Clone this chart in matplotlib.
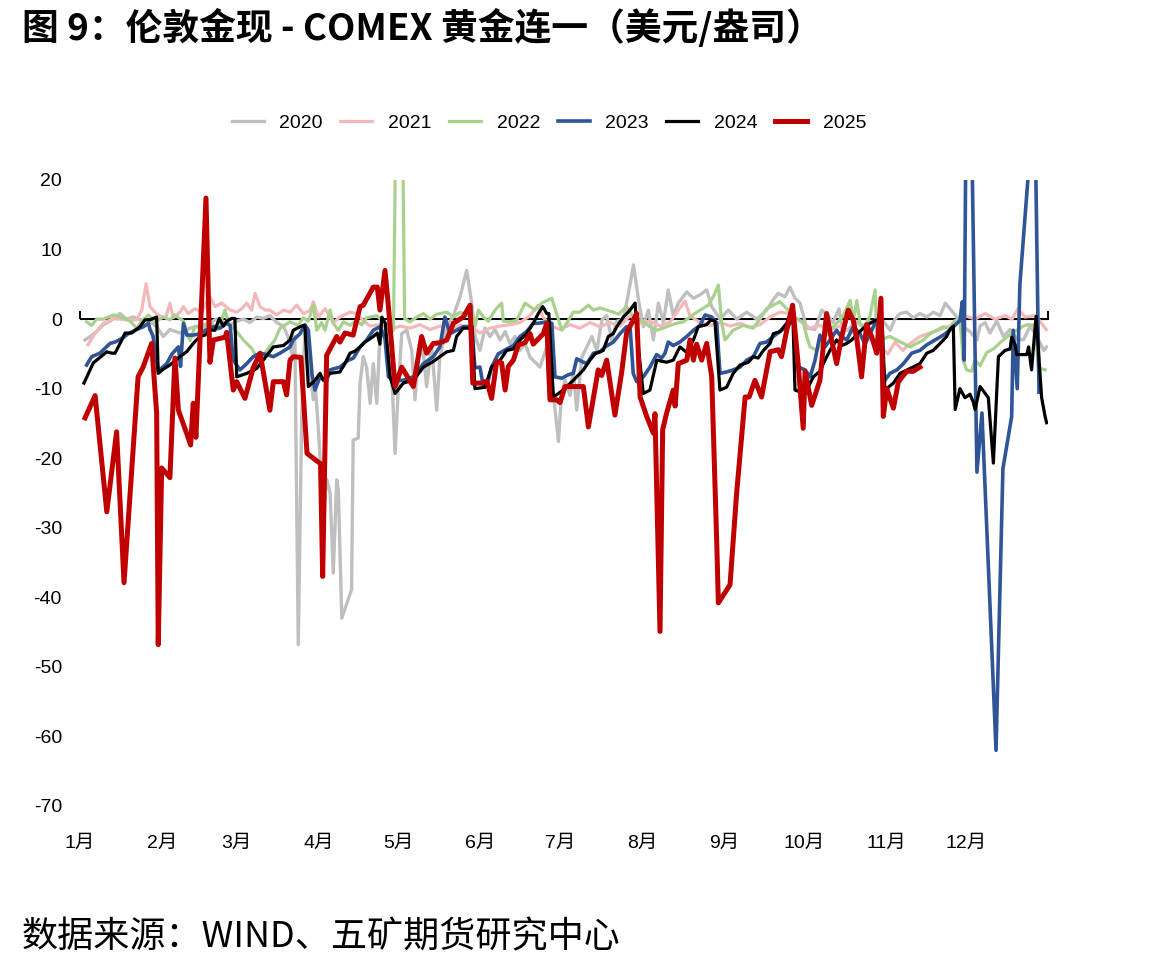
import matplotlib
matplotlib.use("Agg")
import matplotlib.pyplot as plt
from matplotlib import font_manager as fm

# ---------------- data ----------------
month_labels = ["1月", "2月", "3月", "4月", "5月", "6月", "7月", "8月", "9月", "10月", "11月", "12月"]
month_starts = [0, 31, 59, 90, 120, 151, 181, 212, 243, 273, 304, 334]
years = ["2020", "2021", "2022", "2023", "2024", "2025"]
y_ticks = [20, 10, 0, -10, -20, -30, -40, -50, -60, -70]

d2020 = [1.9, 3.8, 6.3, 8.8, 11.3, 15.1, 17.6, 20.1, 22.6, 25.1, 28.9, 31.4, 33.9, 37.7, 41.5, 45.2, 49.0, 51.5, 54.0, 56.6, 59.1, 61.6, 64.1, 66.6, 69.1, 71.6, 74.2, 76.7, 78.4, 79.8, 81.0, 82.3, 83.6, 84.8, 86.3, 88.0, 88.6, 89.9, 91.7, 93.0, 94.3, 95.5, 96.8, 97.4, 98.7, 102.4, 103.0, 104.9, 105.6, 106.8, 108.1, 109.4, 110.6, 111.9, 113.1, 114.4, 115.6, 117.5, 118.8, 120.0, 121.3, 123.2, 125.1, 126.3, 127.6, 129.4, 130.7, 132.6, 134.5, 135.7, 138.3, 140.8, 143.3, 145.8, 147.7, 149.0, 150.8, 152.7, 154.6, 156.5, 158.4, 160.3, 162.1, 164.0, 165.9, 167.8, 169.7, 172.2, 173.4, 176.0, 178.5, 180.4, 181.6, 182.9, 184.8, 186.0, 187.3, 189.2, 191.1, 193.0, 194.9, 196.8, 198.6, 200.5, 202.4, 204.9, 206.8, 208.7, 210.6, 212.4, 214.3, 216.2, 218.1, 220.0, 221.8, 223.7, 225.6, 228.8, 231.3, 233.8, 236.3, 238.2, 241.3, 244.5, 247.6, 251.4, 255.2, 258.9, 261.4, 263.3, 265.8, 267.7, 269.6, 271.5, 274.0, 277.1, 279.7, 282.1, 283.9, 286.2, 287.5, 290.0, 292.6, 295.1, 297.9, 300.4, 302.9, 305.5, 307.3, 309.2, 311.7, 314.2, 316.7, 319.3, 321.8, 324.3, 326.3, 328.0, 330.6, 333.0, 335.6, 338.2, 339.4, 341.3, 343.1, 345.7, 348.2, 350.7, 353.2, 355.7, 358.3, 360.8, 363.4, 364.5]
v2020 = [-3.0, -2.5, -1.8, -0.8, -0.3, 0.8, 0.0, 0.3, -0.1, 0.0, -1.1, -2.5, -1.5, -2.0, -1.3, -1.0, -0.5, 0.0, -0.4, -0.9, -0.3, 0.0, -0.5, 0.3, 0.1, 0.5, -0.5, -1.0, -2.5, -4.9, -2.5, -46.8, -14.0, -1.6, -6.0, -11.6, -9.0, -15.9, -27.9, -23.0, -25.0, -36.5, -23.1, -24.5, -43.0, -38.9, -17.4, -17.1, -9.2, -5.4, -7.0, -12.1, -6.4, -12.1, -2.5, -1.6, -3.5, -7.3, -19.3, -10.2, -2.1, -1.6, -4.5, -11.6, -5.5, -4.5, -9.7, -3.8, -13.1, -5.5, -1.1, 0.5, 3.2, 7.0, 2.3, -2.5, -4.5, -1.3, -2.5, -1.5, -3.0, -1.8, -3.5, -2.5, -4.5, -3.5, -5.5, -6.4, -6.9, -4.0, -10.7, -17.6, -10.7, -8.8, -11.0, -7.5, -13.1, -5.5, -4.0, -2.5, -4.5, -0.1, 0.5, -3.0, -0.3, 0.0, 3.7, 7.8, 2.7, -1.1, 1.3, -3.0, 2.3, -0.5, 4.2, 0.5, 2.3, 3.9, 3.0, 3.5, 4.2, 1.8, 0.0, 1.3, 0.0, 1.0, 0.0, 1.3, 2.8, 3.7, 3.2, 4.6, 3.0, 2.3, -1.3, -1.5, 1.3, 0.5, -0.5, 1.5, -1.8, -1.4, -0.3, -1.0, -0.3, -1.0, -0.3, -1.6, 0.0, 0.8, 1.0, 0.2, 0.8, 0.3, 1.0, 0.5, 2.3, 1.5, 0.3, -1.1, -1.8, -3.0, -1.0, -0.5, -2.0, -0.3, -2.5, -1.5, -2.8, -3.0, -1.0, -2.5, -4.5, -4.0]

d2021 = [3.0, 5.7, 8.8, 12.6, 17.6, 21.4, 23.3, 24.9, 26.4, 28.7, 30.8, 32.4, 33.9, 35.2, 37.7, 39.0, 40.8, 43.4, 45.9, 47.8, 49.0, 50.9, 53.4, 56.6, 59.1, 61.0, 62.9, 64.7, 66.0, 67.9, 69.8, 71.6, 74.2, 76.7, 79.2, 81.7, 84.2, 86.7, 88.0, 89.9, 92.4, 95.5, 98.0, 101.8, 104.3, 106.8, 109.4, 113.1, 116.9, 120.7, 124.4, 128.2, 132.0, 135.7, 139.5, 143.3, 147.1, 150.8, 154.6, 158.4, 162.1, 165.9, 169.7, 172.7, 174.6, 177.2, 181.0, 184.8, 188.5, 192.3, 196.1, 199.8, 203.6, 207.4, 211.2, 214.9, 218.7, 222.5, 225.5, 228.1, 230.0, 233.8, 237.6, 241.3, 245.1, 248.9, 252.6, 256.4, 260.2, 263.9, 267.7, 271.5, 275.3, 279.0, 282.8, 286.6, 290.4, 294.2, 297.9, 301.7, 304.7, 307.3, 310.3, 313.0, 316.7, 320.5, 324.3, 328.0, 331.0, 333.7, 337.5, 341.3, 345.0, 348.8, 351.4, 353.7, 356.3, 360.1, 362.0, 364.3]
v2021 = [-3.7, -2.0, -0.6, 0.1, -0.1, -0.1, 1.3, 5.1, 1.8, 0.8, 0.3, 0.3, 2.3, 0.2, 1.0, 1.8, 0.8, 1.5, 1.0, 2.5, 3.2, 1.8, 2.3, 1.3, 1.0, 1.5, 2.3, 1.3, 3.7, 1.8, 1.3, 1.3, 0.6, 1.3, 1.0, 2.0, 0.8, 1.2, 2.5, 0.3, 1.5, -0.5, 0.3, 1.0, 0.8, -0.2, -1.0, -0.8, -1.5, -1.0, -1.3, -0.8, -1.5, -1.0, -1.5, -0.9, -1.0, -2.0, -1.3, -1.0, -0.8, -0.5, 0.5, 2.0, 0.3, -0.9, -1.5, -0.8, -1.3, -0.5, -1.1, -0.5, -1.0, 0.5, -0.6, -0.3, -1.0, -0.4, 1.2, 2.6, 0.5, -0.5, -0.9, -0.5, -1.0, -0.6, -1.2, -0.8, 0.3, 1.0, 0.8, -0.3, -1.3, -0.9, -1.5, -1.0, -1.8, -2.5, -3.0, -4.0, -5.0, -3.3, -4.5, -3.5, -2.5, -2.0, -1.5, -1.0, -0.2, 0.5, 0.0, 0.8, 0.0, 0.5, 0.0, 1.5, 0.3, 0.5, -0.3, -1.5]

d2022 = [2.5, 4.4, 6.3, 8.8, 12.6, 15.1, 18.9, 21.4, 23.3, 25.8, 28.3, 31.4, 33.9, 35.8, 39.0, 40.8, 41.5, 43.4, 46.5, 49.0, 52.1, 54.7, 55.9, 59.1, 61.6, 64.7, 66.6, 68.5, 70.4, 73.5, 75.4, 79.2, 82.3, 84.2, 86.1, 88.0, 89.3, 91.1, 92.4, 94.3, 95.5, 97.4, 99.3, 101.8, 104.3, 106.2, 108.1, 111.9, 114.4, 116.9, 118.2, 119.4, 121.3, 122.4, 124.4, 127.0, 129.5, 132.0, 134.5, 138.3, 140.8, 143.3, 145.8, 147.1, 149.0, 150.2, 152.1, 154.0, 156.5, 159.0, 159.6, 161.5, 164.6, 167.8, 171.6, 174.1, 177.9, 179.1, 181.7, 183.5, 186.0, 188.5, 191.7, 193.6, 196.1, 198.6, 201.1, 203.0, 206.1, 208.6, 212.4, 214.9, 217.5, 219.9, 222.5, 225.0, 227.5, 230.7, 233.8, 236.9, 238.8, 240.7, 242.0, 243.2, 246.3, 250.1, 253.9, 256.4, 258.9, 261.4, 263.9, 266.5, 269.0, 272.7, 274.0, 275.3, 277.8, 280.3, 282.8, 285.3, 287.8, 290.4, 291.6, 292.9, 294.1, 295.4, 297.9, 299.8, 300.4, 302.9, 305.4, 307.9, 310.5, 313.0, 315.5, 318.0, 320.5, 323.0, 325.5, 328.0, 329.9, 331.8, 333.0, 334.3, 336.2, 337.5, 339.4, 341.9, 344.4, 346.9, 349.4, 351.4, 353.7, 355.7, 357.5, 360.1, 361.4, 363.9]
v2022 = [-0.4, -0.9, 0.0, 0.0, 0.6, 0.3, -0.3, -1.3, -0.3, 0.6, -0.4, 0.3, -0.1, 0.6, -0.3, -2.5, -3.1, -1.0, -1.3, -0.4, -1.5, 1.3, -0.5, -1.8, -3.0, -4.2, -5.4, -5.9, -4.5, -3.0, -1.3, -0.4, -0.9, 0.2, -0.3, 2.0, -1.6, -0.5, -1.6, 1.3, -0.6, -1.6, -0.4, -0.9, -0.2, -0.8, 0.2, 0.5, -0.4, -1.0, -1.6, 40.0, 40.0, 0.1, -0.4, 0.3, 0.8, 0.0, 0.7, 1.0, 0.3, 1.0, 0.5, 1.8, -1.0, 1.3, 0.3, -0.3, 1.3, 2.3, -0.3, -0.4, -0.2, 2.3, 1.3, 2.3, 3.0, 1.5, -1.6, -0.6, 1.0, 1.0, 2.0, 1.3, 1.6, 1.3, 1.0, 0.7, 1.8, 0.3, -0.4, -1.1, -1.6, -1.3, -0.9, -0.6, -0.4, 0.5, 1.3, 2.0, 3.2, 4.9, -0.6, -3.0, -1.6, -0.9, -1.3, 0.0, 1.5, 2.0, 2.5, 1.5, 0.3, -0.4, -2.5, -4.0, -4.5, -2.8, -1.6, -0.6, 0.5, 2.7, -0.3, 2.7, -0.5, -1.3, 0.5, 4.2, -1.8, -2.8, -2.5, -3.0, -3.5, -4.0, -3.5, -3.0, -2.1, -1.6, -1.1, -1.3, -0.2, 0.0, -5.9, -7.3, -7.5, -5.9, -6.7, -4.8, -4.3, -3.4, -2.6, -2.0, -1.5, -1.0, -0.8, -0.9, -7.0, -7.3]

d2023 = [2.5, 4.4, 7.5, 11.3, 13.2, 15.7, 18.2, 20.7, 23.9, 25.8, 26.4, 27.5, 29.5, 32.7, 34.7, 37.1, 37.9, 39.0, 40.3, 42.7, 45.2, 47.8, 50.3, 52.8, 55.3, 56.6, 57.8, 60.3, 62.9, 65.3, 67.9, 70.4, 72.9, 75.4, 79.2, 80.4, 83.0, 84.8, 86.1, 87.5, 88.6, 90.5, 93.0, 94.3, 98.0, 101.2, 103.1, 105.6, 108.1, 110.6, 113.1, 115.0, 116.3, 118.8, 121.9, 125.7, 129.5, 133.2, 135.7, 137.6, 139.5, 142.0, 144.5, 146.4, 147.8, 148.9, 150.8, 152.0, 153.8, 155.2, 157.7, 160.9, 163.4, 165.9, 168.4, 170.9, 172.8, 176.0, 177.9, 179.1, 181.7, 184.1, 186.0, 187.3, 189.8, 191.1, 193.6, 196.1, 198.0, 201.1, 203.6, 206.1, 207.4, 208.6, 209.9, 212.4, 214.9, 217.4, 219.3, 220.6, 221.8, 223.7, 226.2, 228.8, 231.3, 233.8, 235.7, 238.2, 240.1, 241.3, 243.8, 246.3, 248.9, 251.4, 253.9, 256.4, 258.9, 261.4, 263.9, 267.1, 269.0, 270.9, 273.4, 275.3, 277.1, 279.0, 280.9, 282.8, 285.3, 286.5, 289.1, 291.6, 294.1, 296.0, 297.9, 299.8, 301.3, 303.5, 305.4, 308.0, 310.5, 313.6, 316.7, 319.3, 322.4, 325.5, 328.0, 329.9, 331.8, 332.7, 333.4, 334.4, 335.6, 338.2, 340.1, 345.4, 348.0, 351.3, 351.9, 353.4, 354.4, 357.6, 359.3, 361.6]
v2023 = [-6.6, -5.4, -4.9, -3.5, -3.3, -2.8, -2.1, -1.6, -1.1, -0.6, -1.5, -2.4, -7.5, -6.4, -5.0, -4.0, -6.8, -0.6, -2.3, -2.3, -2.1, -1.5, -1.1, -1.3, -0.6, -0.9, -5.9, -7.3, -6.4, -5.4, -4.9, -5.1, -5.4, -4.9, -4.0, -3.0, -2.1, -0.8, -1.6, -8.0, -10.2, -8.3, -8.8, -7.3, -6.9, -5.9, -5.6, -4.0, -3.0, -1.6, -1.1, -2.8, -8.3, -8.8, -8.8, -8.3, -6.4, -5.4, -4.0, 0.3, -2.1, -1.6, -1.1, -1.1, -1.3, -7.0, -6.9, -9.5, -9.0, -6.9, -5.0, -4.3, -3.8, -2.5, -1.8, -0.6, -0.6, -0.4, -0.6, -8.3, -8.5, -8.0, -7.8, -5.7, -6.2, -6.4, -4.9, -4.7, -4.0, -3.3, -2.1, -1.1, -1.0, -7.8, -9.0, -8.3, -6.9, -5.1, -5.6, -4.9, -3.3, -3.8, -3.3, -2.5, -1.6, -0.9, 0.6, 0.3, -0.6, -7.8, -7.6, -7.3, -6.9, -5.9, -5.4, -3.5, -3.3, -2.5, -1.8, -0.9, -0.1, -6.9, -7.3, -8.3, -6.0, -2.3, -4.0, -3.0, -1.6, -2.3, -3.0, -1.1, -2.1, -3.6, -2.1, -0.6, -0.8, -8.8, -7.8, -7.3, -6.4, -4.9, -4.5, -3.7, -3.0, -2.3, -1.6, -0.9, -0.2, 2.5, -5.9, 45.0, 42.0, -22.0, -13.5, -62.0, -21.5, -14.0, -1.6, -10.0, 5.0, 21.0, 50.0, -10.5]

d2024 = [1.5, 5.0, 10.1, 12.0, 13.2, 15.1, 17.0, 19.5, 22.6, 24.5, 26.4, 28.9, 29.5, 31.4, 33.9, 35.8, 37.7, 40.2, 42.7, 45.2, 47.1, 49.0, 50.9, 52.5, 54.0, 55.3, 57.2, 58.4, 59.1, 62.9, 66.6, 69.1, 72.9, 76.7, 79.2, 80.4, 83.0, 84.2, 84.8, 86.1, 88.6, 90.5, 91.7, 94.3, 98.0, 99.9, 101.8, 103.7, 105.6, 107.5, 110.6, 112.1, 113.1, 113.8, 115.1, 116.9, 118.8, 121.9, 125.7, 129.5, 133.2, 135.7, 138.3, 140.8, 142.0, 144.5, 147.1, 147.8, 148.9, 152.7, 155.2, 158.4, 160.9, 163.4, 165.9, 168.4, 170.9, 172.8, 174.5, 176.0, 176.8, 178.5, 182.2, 186.0, 189.8, 192.3, 194.2, 197.3, 199.2, 201.0, 202.4, 204.9, 207.4, 209.3, 210.5, 212.4, 214.9, 217.5, 221.2, 223.7, 226.2, 228.8, 231.3, 233.1, 236.3, 237.9, 239.4, 241.3, 243.8, 246.3, 248.9, 252.0, 253.9, 255.7, 257.7, 260.2, 261.4, 263.9, 266.5, 268.7, 269.6, 273.4, 276.5, 279.0, 280.9, 282.8, 285.3, 287.2, 289.1, 291.0, 293.4, 296.0, 297.9, 300.4, 302.4, 303.5, 306.7, 309.2, 313.0, 316.7, 319.3, 321.7, 324.3, 326.8, 328.0, 329.3, 330.0, 331.8, 333.7, 335.6, 336.8, 337.5, 339.4, 342.5, 344.4, 346.3, 348.8, 350.7, 351.3, 352.6, 353.2, 357.0, 357.7, 358.8, 360.5, 362.6, 363.9, 364.5]
v2024 = [-9.2, -6.3, -4.7, -4.9, -4.9, -3.5, -2.0, -2.0, -1.1, -0.1, -0.1, 0.3, -7.8, -7.2, -6.6, -6.0, -5.4, -4.7, -3.5, -2.5, -2.3, -1.6, -1.6, 0.1, -1.0, -0.3, 0.1, 0.1, -8.3, -7.8, -7.1, -5.9, -4.0, -3.8, -3.0, -1.6, -1.1, -0.9, -1.0, -9.7, -8.8, -7.8, -8.8, -7.8, -7.6, -6.4, -4.9, -4.6, -4.0, -3.3, -2.5, -2.0, -3.6, 0.3, -0.6, -8.3, -10.7, -9.2, -8.8, -6.9, -6.1, -5.4, -4.7, -4.5, -2.5, -1.3, -1.3, -1.0, -10.0, -9.8, -6.9, -5.9, -4.5, -4.3, -3.0, -2.1, -0.6, 0.8, 1.8, 0.8, 0.8, -11.2, -10.2, -8.8, -7.3, -5.9, -5.0, -4.5, -2.5, -2.1, -1.1, 0.3, 1.3, 2.3, -4.0, -10.7, -10.2, -5.9, -6.2, -5.9, -4.0, -4.8, -3.0, -1.1, -0.8, -0.1, -0.3, -10.2, -9.8, -7.8, -6.6, -6.2, -5.4, -5.6, -4.5, -3.5, -2.1, -1.8, -0.6, 1.8, -10.2, -10.7, -8.3, -7.5, -5.9, -4.5, -3.0, -3.8, -3.5, -3.0, -2.0, -1.1, -0.6, -0.1, -0.1, -10.2, -9.2, -7.8, -7.1, -6.4, -4.9, -4.5, -3.5, -2.5, -1.5, -1.0, -13.0, -10.0, -11.3, -10.8, -11.9, -13.0, -9.7, -11.3, -20.7, -5.4, -4.5, -4.3, -2.6, -3.7, -5.1, -5.1, -4.0, -7.3, 0.4, -11.3, -14.0, -14.9]

d2025 = [1.9, 5.7, 10.1, 13.8, 16.6, 21.9, 23.8, 27.0, 28.9, 29.5, 30.8, 33.9, 35.8, 37.1, 40.2, 41.7, 42.7, 43.7, 47.5, 49.0, 50.3, 54.7, 55.3, 57.8, 59.1, 62.2, 65.3, 67.9, 71.6, 72.9, 76.7, 77.9, 79.2, 80.4, 83.3, 85.6, 90.7, 91.5, 93.0, 96.8, 98.0, 99.9, 103.0, 105.6, 106.8, 110.6, 112.1, 113.1, 115.0, 116.3, 118.8, 121.3, 125.7, 128.8, 130.7, 133.2, 135.7, 138.3, 140.8, 144.5, 147.1, 148.1, 151.5, 153.4, 155.2, 157.1, 159.0, 160.3, 161.5, 163.4, 165.3, 167.8, 169.7, 170.9, 174.7, 176.0, 177.2, 179.7, 181.0, 182.9, 189.8, 191.7, 195.4, 196.7, 198.6, 201.7, 204.3, 206.1, 209.9, 211.2, 213.7, 216.2, 216.8, 218.7, 219.7, 221.2, 223.7, 224.4, 225.6, 228.8, 230.0, 231.3, 232.5, 234.4, 236.3, 238.2, 240.1, 240.7, 245.1, 247.6, 250.8, 252.3, 254.5, 257.0, 260.2, 263.3, 264.5, 266.5, 268.7, 270.9, 272.7, 273.4, 275.9, 279.0, 281.5, 283.4, 285.3, 287.2, 289.7, 291.6, 292.9, 294.7, 296.6, 298.5, 300.4, 302.0, 302.9, 304.2, 306.7, 308.6, 311.7, 314.2, 316.7]
v2025 = [-14.2, -11.0, -27.7, -16.2, -37.9, -8.3, -6.9, -3.5, -13.5, -46.8, -21.4, -22.8, -5.6, -13.1, -16.4, -18.1, -12.1, -17.0, 17.4, -6.2, -3.0, -2.6, -1.9, -10.2, -9.0, -11.4, -7.0, -4.9, -13.1, -9.0, -9.0, -10.9, -5.9, -5.4, -5.5, -19.3, -20.8, -37.0, -5.2, -2.5, -3.3, -2.0, -2.3, 1.8, 2.0, 4.6, 4.6, 1.3, 7.0, 1.8, -9.7, -6.9, -9.7, -2.5, -4.9, -3.5, -3.4, -3.0, -0.6, 0.3, 2.0, -9.2, -9.2, -8.9, -11.4, -6.1, -6.3, -10.2, -6.8, -5.9, -3.7, -3.4, -2.1, -3.6, -2.1, -0.6, -11.6, -11.6, -12.0, -9.7, -9.7, -15.5, -7.3, -8.1, -5.9, -13.8, -7.5, -2.0, 0.8, -11.2, -14.0, -16.4, -13.6, -44.9, -15.9, -13.5, -10.2, -12.5, -6.4, -5.9, -3.0, -5.9, -3.6, -5.9, -3.5, -8.3, -32.2, -40.8, -38.2, -25.0, -11.2, -11.2, -8.8, -11.2, -4.7, -4.4, -5.4, -1.6, 2.0, -6.9, -15.7, -7.5, -12.4, -8.8, 0.8, -3.0, -6.4, -2.5, 1.3, -0.2, -2.8, -8.3, -0.8, -2.5, -4.9, 3.0, -14.0, -10.0, -12.8, -9.0, -7.5, -7.5, -6.9]

series_days = [d2020, d2021, d2022, d2023, d2024, d2025]
series_vals = [v2020, v2021, v2022, v2023, v2024, v2025]
for yr, dd, vv in zip(years, series_days, series_vals):
    assert len(dd) == len(vv), f"{yr}: {len(dd)} days vs {len(vv)} values"

# ---------------- style ----------------
colors = ["#BFBFBF", "#F4B8BA", "#A9D18E", "#2F5597", "#000000", "#C00000"]
widths = [2.4, 2.3, 2.3, 2.6, 2.3, 3.6]

avail = {f.name for f in fm.fontManager.ttflist}
if "Liberation Sans Narrow" in avail:
    narrow = "Liberation Sans Narrow"
elif "Liberation Sans" in avail:
    narrow = "Liberation Sans"
else:
    narrow = "DejaVu Sans"
cjk = "Noto Sans CJK SC"
plt.rcParams["font.family"] = [narrow, cjk, "DejaVu Sans"]

W, H = 1165, 968
fig = plt.figure(figsize=(W / 100, H / 100), dpi=100)
ax = fig.add_axes([80 / W, 1 - 806 / H, (1048 - 80) / W, (806 - 180) / H])

lines = []
for yr, dd, vv, c, lw in zip(years, series_days, series_vals, colors, widths):
    ln, = ax.plot(dd, vv, color=c, lw=lw, label=yr, solid_joinstyle="round", zorder=2)
    lines.append(ln)

ax.axhline(0, color="black", lw=1.4, zorder=1)
ax.set_xlim(0, 365)
ax.set_ylim(-70, 20)
for s in ax.spines.values():
    s.set_visible(False)

ax.set_yticks(y_ticks)
ax.set_yticklabels([str(t) for t in y_ticks])
ax.tick_params(axis="y", length=0, pad=13, labelsize=14, labelcolor="black")
ax.set_xticks(month_starts)
ax.set_xticklabels(month_labels)
ax.tick_params(axis="x", length=0, pad=21, labelsize=14, labelcolor="black")

# small tick marks at both ends of the zero axis
zero_axis = ax.secondary_xaxis(70 / 90)
zero_axis.set_xticks([0, 365])
zero_axis.set_xticklabels([])
zero_axis.tick_params(axis="x", direction="out", length=6, width=1.4, color="black")
zero_axis.spines["bottom"].set_visible(False)

fig.legend(handles=lines, labels=years, loc="center", ncol=6,
           bbox_to_anchor=(549 / W, 1 - 123 / H), frameon=False,
           fontsize=14, handlelength=1.65, handletextpad=0.8, columnspacing=0.9)

fig.text(22 / W, 1 - 28 / H, "图 9：伦敦金现 - COMEX 黄金连一（美元/盎司）",
         ha="left", va="center", fontsize=26.5, fontweight="bold", family=[cjk])
fig.text(22 / W, 1 - 937 / H, "数据来源：WIND、五矿期货研究中心",
         ha="left", va="center", fontsize=26, family=[cjk])

fig.savefig("out.png", dpi=100)
